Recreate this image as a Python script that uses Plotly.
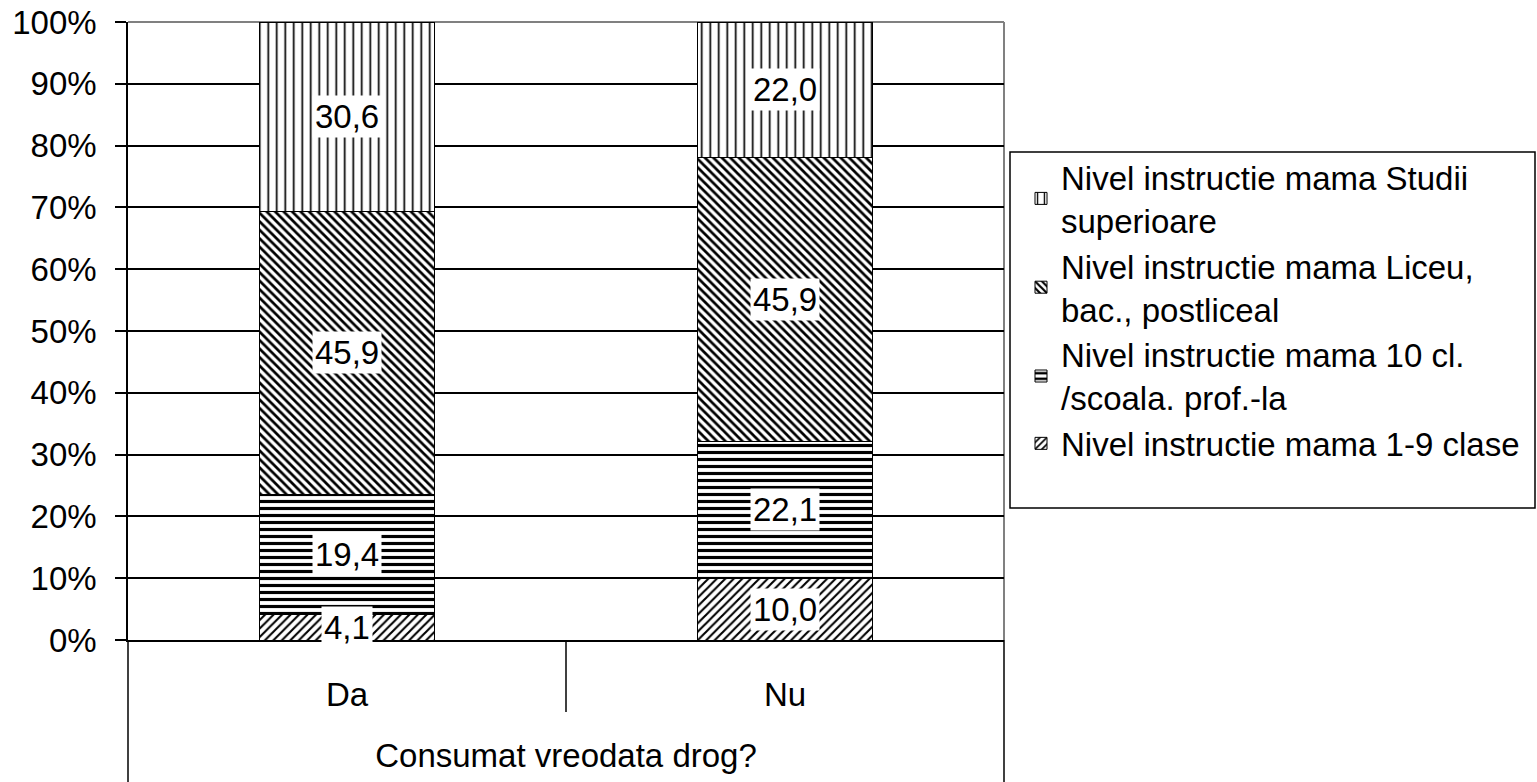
import plotly.graph_objects as go

categories = ["Da", "Nu"]
series_names = [
    "Nivel instructie mama 1-9 clase",
    "Nivel instructie mama 10 cl.<br>/scoala. prof.-la",
    "Nivel instructie mama Liceu,<br>bac., postliceal",
    "Nivel instructie mama Studii<br>superioare",
]
vals_1_9 = [4.1, 10.0]
vals_10cl = [19.4, 22.1]
vals_liceu = [45.9, 45.9]
vals_studii = [30.6, 22.0]
series_values = [vals_1_9, vals_10cl, vals_liceu, vals_studii]
y_ticks = [0, 10, 20, 30, 40, 50, 60, 70, 80, 90, 100]
y_tick_labels = [f"{t}%" for t in y_ticks]
axis_title = "Consumat vreodata drog?"

patterns = [
    dict(shape="/", size=6, solidity=0.35),
    dict(shape="-", size=7, solidity=0.45),
    dict(shape="\\", size=6, solidity=0.45),
    dict(shape="|", size=8.5, solidity=0.2),
]

FONT = "Arial, Liberation Sans, sans-serif"
FS = 33
W, H = 1537, 782


def px(sx):
    return sx / W


def py(sy):
    return (H - sy) / H


x0p, x1p = px(128), px(1004)
y0p, y1p = py(640), py(22)

fig = go.Figure()
for name, vals, pat in zip(series_names, series_values, patterns):
    fig.add_trace(go.Bar(
        x=categories, y=vals, name=name, width=0.4,
        marker=dict(color="white", line=dict(color="black", width=1),
                    pattern=dict(fgcolor="black", bgcolor="white", fillmode="replace", **pat)),
    ))

annotations = []
for ci, cat in enumerate(categories):
    base = 0.0
    for vals in series_values:
        v = vals[ci]
        annotations.append(dict(
            x=cat, y=base + v / 2, xref="x", yref="y", showarrow=False,
            text=f"{v:.1f}".replace(".", ","), bgcolor="white", borderpad=2,
            font=dict(family=FONT, size=FS, color="black"),
        ))
        base += v

shapes = [
    dict(type="line", xref="paper", yref="paper", x0=x0p, x1=x1p, y0=y1p, y1=y1p,
         line=dict(color="#808080", width=2), layer="below"),
    dict(type="line", xref="paper", yref="paper", x0=x1p, x1=x1p, y0=y0p, y1=y1p,
         line=dict(color="#808080", width=2), layer="below"),
    dict(type="line", xref="paper", yref="paper", x0=x0p, x1=x0p, y0=0, y1=y0p,
         line=dict(color="black", width=1.5)),
    dict(type="line", xref="paper", yref="paper", x0=x1p, x1=x1p, y0=0, y1=y0p,
         line=dict(color="black", width=1.5)),
    dict(type="line", xref="x", yref="paper", x0=0.5, x1=0.5, y0=py(712), y1=y0p,
         line=dict(color="black", width=1.5)),
    dict(type="rect", xref="paper", yref="paper", x0=px(1010), x1=px(1535),
         y0=py(508), y1=py(152), line=dict(color="black", width=1.5),
         fillcolor="rgba(0,0,0,0)"),
]

fig.update_layout(
    width=W, height=H, barmode="stack",
    margin=dict(l=0, r=0, t=0, b=0, autoexpand=False),
    paper_bgcolor="white", plot_bgcolor="white",
    font=dict(family=FONT, size=FS, color="black"),
    showlegend=True,
    legend=dict(x=px(1021), y=py(149), xanchor="left", yanchor="top",
                traceorder="reversed", bgcolor="rgba(0,0,0,0)", borderwidth=0,
                font=dict(family=FONT, size=FS, color="black"),
                tracegroupgap=4),
    xaxis=dict(domain=[x0p, x1p], showline=True, linecolor="black", linewidth=1.5,
               ticks="", showgrid=False, ticklabelstandoff=25, range=[-0.5, 1.5],
               automargin=False, tickfont=dict(family=FONT, size=FS),
               title=dict(text=axis_title, standoff=32, font=dict(family=FONT, size=FS))),
    yaxis=dict(domain=[y0p, y1p], range=[0, 100], tickmode="array",
               tickvals=y_ticks, ticktext=y_tick_labels, automargin=False,
               ticklabeloverflow="allow",
               showline=True, linecolor="black", linewidth=1.5,
               ticks="outside", ticklen=11, tickcolor="black", tickwidth=1.5,
               showgrid=True, gridcolor="black", gridwidth=1.5, zeroline=False,
               tickfont=dict(family=FONT, size=FS), ticklabelstandoff=12),
    annotations=annotations,
    shapes=shapes,
)

fig.write_html("out.html", config={"displayModeBar": False},
               post_script="document.body.style.margin='0';document.body.style.overflow='hidden';")
